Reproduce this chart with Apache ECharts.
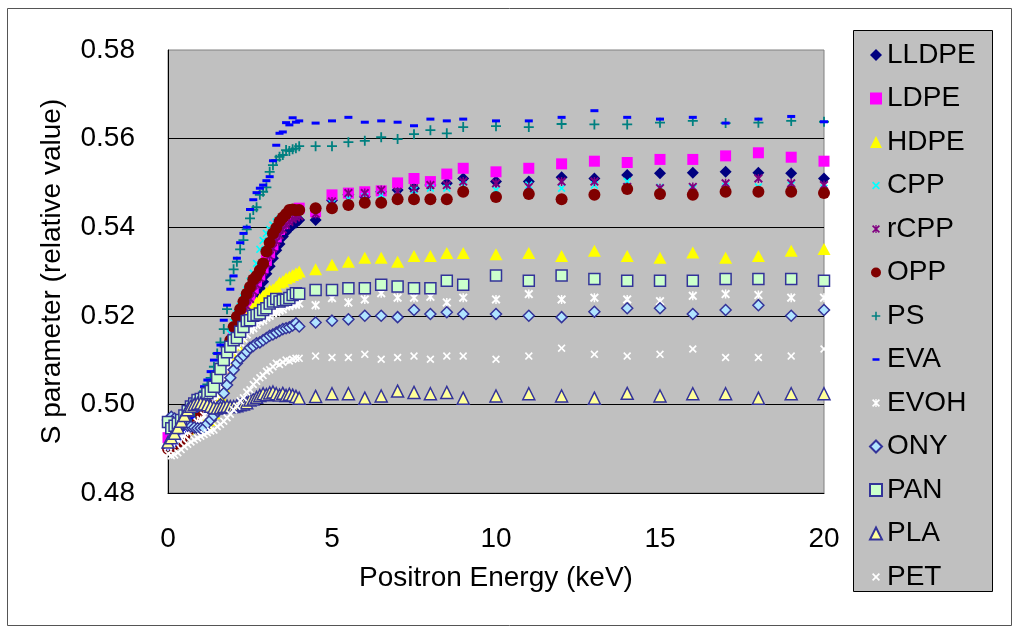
<!DOCTYPE html>
<html><head><meta charset="utf-8">
<script src="https://cdn.jsdelivr.net/npm/echarts@6/dist/echarts.min.js"></script>
<style>html,body{margin:0;padding:0;background:#fff;}#c{width:1024px;height:637px;}</style>
</head><body><div id="c"></div>
<script>
const energy = [0,0.1,0.2,0.3,0.4,0.5,0.6,0.7,0.8,0.9,1.0,1.1,1.2,1.3,1.4,1.5,1.6,1.7,1.8,1.9,2.0,2.1,2.2,2.3,2.4,2.5,2.6,2.7,2.8,2.9,3.0,3.1,3.2,3.3,3.4,3.5,3.6,3.7,3.8,3.9,4.0,4.5,5,5.5,6,6.5,7,7.5,8,8.5,9,10,11,12,13,14,15,16,17,18,19,20];

const LLDPE = [0.4905,0.4910,0.4915,0.4920,0.4928,0.4935,0.4945,0.4955,0.4965,0.4975,
0.4985,0.4995,0.5005,0.5015,0.5025,0.5035,0.5050,0.5070,0.5090,0.5110,
0.5130,0.5148,0.5165,0.5180,0.5195,0.5210,0.5228,0.5245,0.5262,0.5277,
0.5295,0.5312,0.5330,0.5348,0.5362,0.5379,0.5390,0.5398,0.5405,0.5410,
0.5416,
0.5416,0.5461,0.5473,0.5469,0.5480,0.5484,0.5488,0.5495,0.5499,0.5510,
0.5503,0.5503,0.5513,0.5510,0.5518,0.5522,0.5523,0.5525,0.5523,0.5522,0.5510];

const LDPE = [0.4925,0.4918,0.4920,0.4925,0.4932,0.4940,0.4950,0.4960,0.4970,0.4980,
0.4990,0.5000,0.5010,0.5020,0.5032,0.5045,0.5060,0.5080,0.5105,0.5130,
0.5155,0.5175,0.5195,0.5210,0.5228,0.5245,0.5262,0.5278,0.5292,0.5308,
0.5325,0.5342,0.5360,0.5378,0.5395,0.5408,0.5418,0.5428,0.5435,0.5440,
0.5443,
0.5435,0.5473,0.5477,0.5480,0.5482,0.5500,0.5510,0.5503,0.5520,0.5533,
0.5525,0.5533,0.5543,0.5549,0.5546,0.5553,0.5553,0.5561,0.5568,0.5558,0.5549];

const HDPE = [0.4915,0.4920,0.4925,0.4930,0.4935,0.4940,0.4945,0.4950,0.4955,0.4955,
0.4955,0.4957,0.4957,0.4965,0.4980,0.5000,0.5020,0.5040,0.5065,0.5088,
0.5110,0.5135,0.5155,0.5175,0.5195,0.5210,0.5220,0.5230,0.5238,0.5245,
0.5252,0.5258,0.5260,0.5266,0.5275,0.5278,0.5285,0.5288,0.5292,0.5296,
0.5300,
0.5305,0.5315,0.5322,0.5331,0.5331,0.5322,0.5335,0.5335,0.5342,0.5342,
0.5339,0.5342,0.5335,0.5347,0.5335,0.5331,0.5343,0.5331,0.5335,0.5347,0.5351];

const CPP = [0.4905,0.4910,0.4915,0.4922,0.4930,0.4940,0.4950,0.4960,0.4970,0.4980,
0.4992,0.5005,0.5020,0.5035,0.5050,0.5068,0.5088,0.5110,0.5135,0.5160,
0.5185,0.5205,0.5221,0.5240,0.5258,0.5278,0.5296,0.5318,0.5350,0.5370,
0.5386,0.5395,0.5405,0.5412,0.5418,0.5422,0.5428,0.5432,0.5435,0.5436,
0.5438,
0.5440,0.5454,0.5465,0.5469,0.5473,0.5480,0.5484,0.5488,0.5488,0.5495,
0.5484,0.5495,0.5488,0.5495,0.5503,0.5490,0.5488,0.5492,0.5491,0.5495,0.5488];

const rCPP = [0.4905,0.4910,0.4915,0.4922,0.4930,0.4938,0.4948,0.4958,0.4968,0.4978,
0.4988,0.4998,0.5008,0.5018,0.5030,0.5042,0.5058,0.5078,0.5100,0.5125,
0.5150,0.5170,0.5188,0.5205,0.5222,0.5238,0.5255,0.5270,0.5285,0.5300,
0.5318,0.5335,0.5352,0.5368,0.5382,0.5395,0.5405,0.5412,0.5418,0.5422,
0.5425,
0.5430,0.5458,0.5477,0.5477,0.5484,0.5480,0.5488,0.5495,0.5495,0.5503,
0.5499,0.5491,0.5503,0.5503,0.5491,0.5488,0.5491,0.5499,0.5510,0.5499,0.5495];

const OPP = [0.4900,0.4905,0.4910,0.4915,0.4920,0.4930,0.4940,0.4950,0.4965,0.4980,
0.4995,0.5000,0.5010,0.5015,0.5030,0.5045,0.5060,0.5085,0.5115,0.5145,
0.5175,0.5198,0.5215,0.5232,0.5250,0.5265,0.5282,0.5290,0.5303,0.5318,
0.5345,0.5365,0.5386,0.5398,0.5413,0.5422,0.5430,0.5439,0.5440,0.5438,
0.5439,
0.5443,0.5443,0.5450,0.5455,0.5455,0.5463,0.5463,0.5463,0.5463,0.5480,
0.5468,0.5475,0.5463,0.5473,0.5486,0.5475,0.5473,0.5480,0.5480,0.5480,0.5477];

const PS = [0.4905,0.4910,0.4915,0.4925,0.4935,0.4945,0.4955,0.4970,0.4985,0.5000,
0.5015,0.5030,0.5045,0.5060,0.5085,0.5115,0.5140,0.5170,0.5215,0.5280,
0.5305,0.5322,0.5350,0.5371,0.5395,0.5420,0.5439,0.5445,0.5473,0.5480,
0.5490,0.5525,0.5540,0.5552,0.5559,0.5563,0.5574,0.5572,0.5576,0.5578,
0.5583,
0.5583,0.5583,0.5592,0.5595,0.5603,0.5599,0.5610,0.5619,0.5612,0.5626,
0.5628,0.5626,0.5633,0.5632,0.5632,0.5636,0.5640,0.5635,0.5636,0.5640,0.5638];

const EVA = [0.4900,0.4905,0.4910,0.4920,0.4930,0.4940,0.4955,0.4970,0.4985,0.5000,
0.5020,0.5040,0.5055,0.5074,0.5100,0.5115,0.5134,0.5190,0.5224,0.5260,
0.5290,0.5330,0.5365,0.5386,0.5400,0.5440,0.5462,0.5478,0.5488,0.5495,
0.5505,0.5514,0.5550,0.5585,0.5612,0.5615,0.5636,0.5631,0.5647,0.5637,
0.5640,
0.5635,0.5640,0.5648,0.5637,0.5640,0.5637,0.5629,0.5644,0.5640,0.5644,
0.5640,0.5640,0.5648,0.5663,0.5648,0.5644,0.5648,0.5635,0.5644,0.5650,0.5638];

const EVOH = [0.4905,0.4910,0.4915,0.4920,0.4925,0.4930,0.4938,0.4945,0.4952,0.4960,
0.4965,0.4975,0.4985,0.4998,0.5008,0.5020,0.5040,0.5060,0.5080,0.5100,
0.5120,0.5132,0.5140,0.5149,0.5158,0.5168,0.5172,0.5180,0.5187,0.5190,
0.5196,0.5200,0.5206,0.5208,0.5212,0.5215,0.5222,0.5222,0.5226,0.5225,
0.5228,
0.5224,0.5240,0.5230,0.5237,0.5251,0.5241,0.5241,0.5243,0.5230,0.5241,
0.5237,0.5249,0.5237,0.5241,0.5237,0.5233,0.5245,0.5249,0.5247,0.5241,0.5241];

const ONY = [0.4965,0.4972,0.4968,0.4962,0.4958,0.4955,0.4952,0.4950,0.4948,0.4946,
0.4946,0.4946,0.4957,0.4965,0.4975,0.4985,0.5000,0.5025,0.5044,0.5060,
0.5078,0.5093,0.5104,0.5110,0.5119,0.5128,0.5132,0.5138,0.5140,0.5145,
0.5150,0.5155,0.5158,0.5162,0.5166,0.5170,0.5172,0.5174,0.5178,0.5183,
0.5176,
0.5185,0.5189,0.5192,0.5200,0.5200,0.5197,0.5213,0.5204,0.5208,0.5204,
0.5204,0.5200,0.5197,0.5209,0.5217,0.5217,0.5204,0.5213,0.5224,0.5200,0.5213];

const PAN = [0.4960,0.4946,0.4952,0.4957,0.4965,0.4975,0.4985,0.4995,0.5002,0.5010,
0.5012,0.5015,0.5025,0.5030,0.5040,0.5060,0.5080,0.5100,0.5118,0.5130,
0.5145,0.5150,0.5164,0.5175,0.5188,0.5190,0.5200,0.5202,0.5205,0.5213,
0.5217,0.5228,0.5232,0.5238,0.5232,0.5235,0.5236,0.5240,0.5247,0.5251,
0.5250,
0.5258,0.5258,0.5262,0.5262,0.5270,0.5266,0.5262,0.5262,0.5279,0.5270,
0.5291,0.5279,0.5291,0.5283,0.5279,0.5279,0.5279,0.5283,0.5283,0.5283,0.5279];

const PLA = [0.4915,0.4925,0.4935,0.4948,0.4962,0.4975,0.4988,0.4996,0.5000,0.5002,
0.5003,0.5001,0.4999,0.4996,0.4993,0.4992,0.4993,0.4995,0.4996,0.4995,
0.4995,0.4997,0.4999,0.5001,0.5004,0.5010,0.5012,0.5016,0.5020,0.5024,
0.5022,0.5026,0.5028,0.5024,0.5021,0.5025,0.5020,0.5023,0.5021,0.5018,
0.5014,
0.5018,0.5024,0.5024,0.5014,0.5019,0.5030,0.5027,0.5024,0.5027,0.5014,
0.5019,0.5024,0.5019,0.5014,0.5025,0.5019,0.5024,0.5024,0.5014,0.5024,0.5024];

const PET = [0.4888,0.4884,0.4886,0.4891,0.4898,0.4905,0.4910,0.4915,0.4920,0.4924,
0.4928,0.4932,0.4936,0.4940,0.4942,0.4950,0.4955,0.4962,0.4970,0.4978,
0.4988,0.4996,0.5008,0.5015,0.5028,0.5033,0.5045,0.5052,0.5060,0.5065,
0.5075,0.5078,0.5085,0.5093,0.5090,0.5095,0.5100,0.5098,0.5102,0.5104,
0.5104,
0.5109,0.5106,0.5106,0.5113,0.5102,0.5106,0.5109,0.5102,0.5109,0.5109,
0.5102,0.5109,0.5127,0.5113,0.5109,0.5113,0.5125,0.5106,0.5106,0.5109,0.5125];

const xTicks = [0, 5, 10, 15, 20];
const yTicks = [0.48, 0.50, 0.52, 0.54, 0.56, 0.58];

const B_X = 'M0,1.5L1.5,0L5,3.5L8.5,0L10,1.5L6.5,5L10,8.5L8.5,10L5,6.5L1.5,10L0,8.5L3.5,5Z';
const B_AST = B_X + 'M4.2,0L5.8,0L5.8,10L4.2,10Z';
const B_PLUS = 'M4.1,0L5.9,0L5.9,4.1L10,4.1L10,5.9L5.9,5.9L5.9,10L4.1,10L4.1,5.9L0,5.9L0,4.1L4.1,4.1Z';
const B_DASH = 'M1.5,3.8L8.5,3.8L8.5,6.2L1.5,6.2Z';
const SYM_X = 'path://' + B_X, SYM_AST = 'path://' + B_AST, SYM_PLUS = 'path://' + B_PLUS;
// legend icons: glyph padded inside a larger invisible box
function padIcon(body, p) {
  const a = -p, b = 10 + p;
  return 'path://M' + a + ',' + a + 'L' + (a + 0.01) + ',' + a + 'L' + a + ',' + (a + 0.01) + 'Z' +
         'M' + b + ',' + b + 'L' + (b - 0.01) + ',' + b + 'L' + b + ',' + (b - 0.01) + 'Z' + body;
}
const OUT = '#333399';

const defs = [
  ['LLDPE', LLDPE, 'diamond', 12, '#000080', null, null],
  ['LDPE', LDPE, 'rect', 11, '#ff00ff', null, null],
  ['HDPE', HDPE, 'triangle', [13, 12], '#ffff00', null, null],
  ['CPP', CPP, SYM_X, 8, '#00ffff', null, padIcon(B_X, 2.5)],
  ['rCPP', rCPP, SYM_AST, 9, '#800080', null, padIcon(B_AST, 2.5)],
  ['OPP', OPP, 'circle', 12, '#800000', null, padIcon('M5,0A5,5,0,1,1,4.99,0Z', 1)],
  ['PS', PS, SYM_PLUS, 10, '#008080', null, padIcon(B_PLUS, 2)],
  ['EVA', EVA, 'rect', [8, 3], '#0000ff', null, padIcon(B_DASH, 1)],
  ['EVOH', EVOH, SYM_AST, 9, '#ffffff', null, padIcon(B_AST, 2.5)],
  ['ONY', ONY, 'diamond', 11, '#b0e4ff', OUT, null],
  ['PAN', PAN, 'rect', 11, '#ccffcc', OUT, null],
  ['PLA', PLA, 'triangle', 12, '#ffff99', OUT, null],
  ['PET', PET, SYM_X, 8, '#ffffff', null, padIcon(B_X, 2.5)]
];

const FONT = 'Liberation Sans, Arial, sans-serif';

const series = defs.map(d => ({
  name: d[0],
  type: 'scatter',
  data: energy.map((x, i) => [x, d[1][i]]),
  symbol: d[2],
  symbolSize: d[3],
  itemStyle: d[5] ? { color: d[4], borderColor: d[5], borderWidth: 1.5, opacity: 1 } : { color: d[4], opacity: 1 },
  emphasis: { disabled: true }
}));

const legendData = defs.map(d => d[6] ? { name: d[0], icon: d[6] } : { name: d[0] });

const chart = echarts.init(document.getElementById('c'), null, { renderer: 'canvas' });
chart.setOption({
  animation: false,
  backgroundColor: '#ffffff',
  textStyle: { fontFamily: FONT },
  graphic: [
    { type: 'rect', z: 0, shape: { x: 7.5, y: 8.5, width: 1004, height: 617 }, style: { fill: 'none', stroke: '#555555', lineWidth: 1 } },
    { type: 'rect', z: 0, shape: { x: 853.5, y: 30.5, width: 139, height: 561 }, style: { fill: '#c0c0c0', stroke: '#000000', lineWidth: 1 } }
  ],
  grid: { left: 168, top: 50, width: 656, height: 443, show: true, backgroundColor: '#c0c0c0', borderColor: '#808080', borderWidth: 1 },
  legend: {
    orient: 'vertical', left: 869, top: 40, z: 10,
    itemWidth: 12, itemHeight: 12, itemGap: 13.5, padding: 0, itemTextGap: 14,
    textStyle: { fontSize: 28, lineHeight: 30, color: '#000', fontFamily: FONT },
    data: legendData
  },
  xAxis: {
    type: 'value', min: xTicks[0], max: xTicks[xTicks.length - 1], interval: 5,
    axisLine: { show: true, onZero: false, lineStyle: { color: '#000', width: 1 } },
    axisTick: { show: false }, splitLine: { show: false },
    axisLabel: { fontSize: 28, color: '#000', margin: 32, fontFamily: FONT },
    name: 'Positron Energy (keV)', nameLocation: 'middle', nameGap: 71,
    nameTextStyle: { fontSize: 28, color: '#000', fontFamily: FONT }
  },
  yAxis: {
    type: 'value', min: yTicks[0], max: yTicks[yTicks.length - 1], interval: 0.02,
    axisLine: { show: true, lineStyle: { color: '#000', width: 1 } },
    axisTick: { show: false },
    splitLine: { show: true, showMaxLine: false, showMinLine: false, lineStyle: { color: '#000', width: 1 } },
    axisLabel: { fontSize: 28, color: '#000', margin: 33, fontFamily: FONT, formatter: v => v.toFixed(2) },
    name: 'S parameter (relative value)', nameLocation: 'middle', nameGap: 102,
    nameTextStyle: { fontSize: 28, color: '#000', fontFamily: FONT }
  },
  series: series
});
</script>
</body></html>
